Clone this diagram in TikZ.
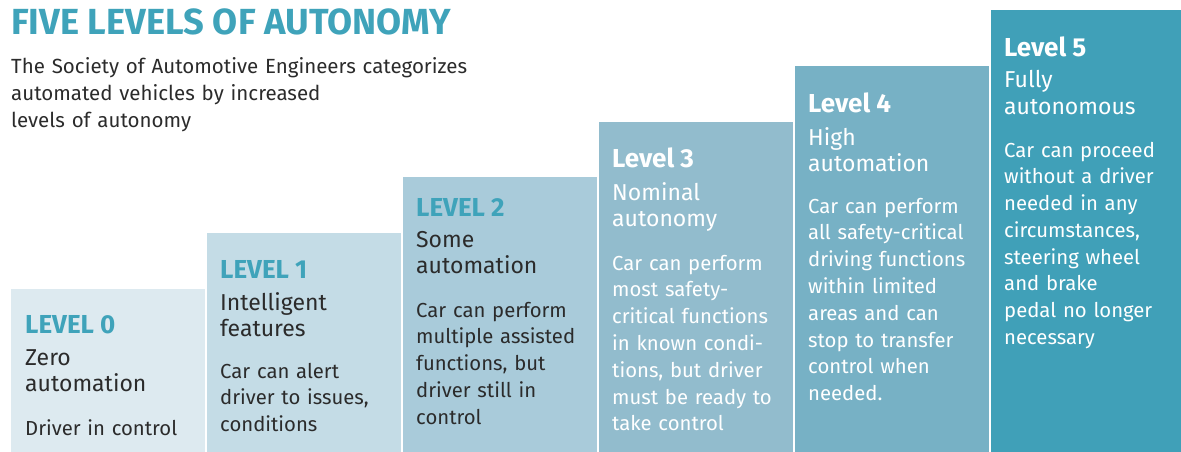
\documentclass[tikz,border=0pt]{standalone}
\usepackage{fontspec}
\setmainfont{Fira Sans}
\definecolor{cA}{HTML}{DDEAF0}
\definecolor{cB}{HTML}{C4DCE6}
\definecolor{cC}{HTML}{A9CBDA}
\definecolor{cD}{HTML}{92BCCD}
\definecolor{cE}{HTML}{77B1C5}
\definecolor{cF}{HTML}{40A0B8}
\definecolor{teal}{HTML}{3FA3BA}
\definecolor{ink}{HTML}{2B2B2B}
\tikzset{
  levbox/.style={draw=none, inner sep=0, minimum width=194pt, anchor=north west},
  lvl/.style={anchor=base west, inner sep=0, font=\fontsize{26}{30}\selectfont\bfseries},
  txt/.style={anchor=base west, inner sep=0, text width=185pt, align=left, font=\fontsize{20.3}{26.8}\selectfont},
  subt/.style={anchor=base west, inner sep=0, text width=185pt, align=left, font=\fontsize{23}{26.8}\selectfont},
}
\begin{document}
\begin{tikzpicture}[x=1pt,y=-1pt]
\useasboundingbox (0,0) rectangle (1181,452);
% boxes
\node[levbox, fill=cA, minimum height=163pt] (b0) at (11,289) {};
\node[levbox, fill=cB, minimum height=219pt] (b1) at (207,233) {};
\node[levbox, fill=cC, minimum height=275pt] (b2) at (403,177) {};
\node[levbox, fill=cD, minimum height=330pt] (b3) at (599,122) {};
\node[levbox, fill=cE, minimum height=386pt] (b4) at (795,66) {};
\node[levbox, fill=cF, minimum height=442pt, minimum width=190pt] (b5) at (991,10) {};
% title
\node[anchor=base west, inner sep=0, text=teal, font=\fontsize{36.3}{40}\selectfont\bfseries] (title) at (11,35) {FIVE LEVELS OF AUTONOMY};
\node[txt, text=ink, text width=480pt, font=\fontsize{20.5}{26.8}\selectfont] (intro) at (11,74) {The Society of Automotive Engineers categorizes\\automated vehicles by increased\\levels of autonomy};
% level 0
\node[lvl, text=teal] (l0) at (25,333) {LEVEL 0};
\node[subt, text=ink] (s0) at (25,365) {Zero\\automation};
\node[txt, text=ink] (d0) at (25,435) {Driver in control};
% level 1
\node[lvl, text=teal] (l1) at (220,278) {LEVEL 1};
\node[subt, text=ink] (s1) at (220,310) {Intelligent\\features};
\node[txt, text=ink] (d1) at (220,378) {Car can alert\\driver to issues,\\conditions};
% level 2
\node[lvl, text=teal] (l2) at (416,216) {LEVEL 2};
\node[subt, text=ink] (s2) at (416,247) {Some\\automation};
\node[txt, text=ink] (d2) at (416,317) {Car can perform\\multiple assisted\\functions, but\\driver still in\\control};
% level 3
\node[lvl, text=white] (l3) at (612,167) {Level 3};
\node[subt, text=white] (s3) at (612,200) {Nominal\\autonomy};
\node[txt, text=white] (d3) at (612,270) {Car can perform\\most safety-\\critical functions\\in known condi-\\tions, but driver\\must be ready to\\take control};
% level 4
\node[lvl, text=white] (l4) at (808,112) {Level 4};
\node[subt, text=white] (s4) at (808,145) {High\\automation};
\node[txt, text=white] (d4) at (808,213) {Car can perform\\all safety-critical\\driving functions\\within limited\\areas and can\\stop to transfer\\control when\\needed.};
% level 5
\node[lvl, text=white] (l5) at (1004,57) {Level 5};
\node[subt, text=white] (s5) at (1004,88) {Fully\\autonomous};
\node[txt, text=white] (d5) at (1004,157) {Car can proceed\\without a driver\\needed in any\\circumstances,\\steering wheel\\and brake\\pedal no longer\\necessary};
\end{tikzpicture}
\end{document}
